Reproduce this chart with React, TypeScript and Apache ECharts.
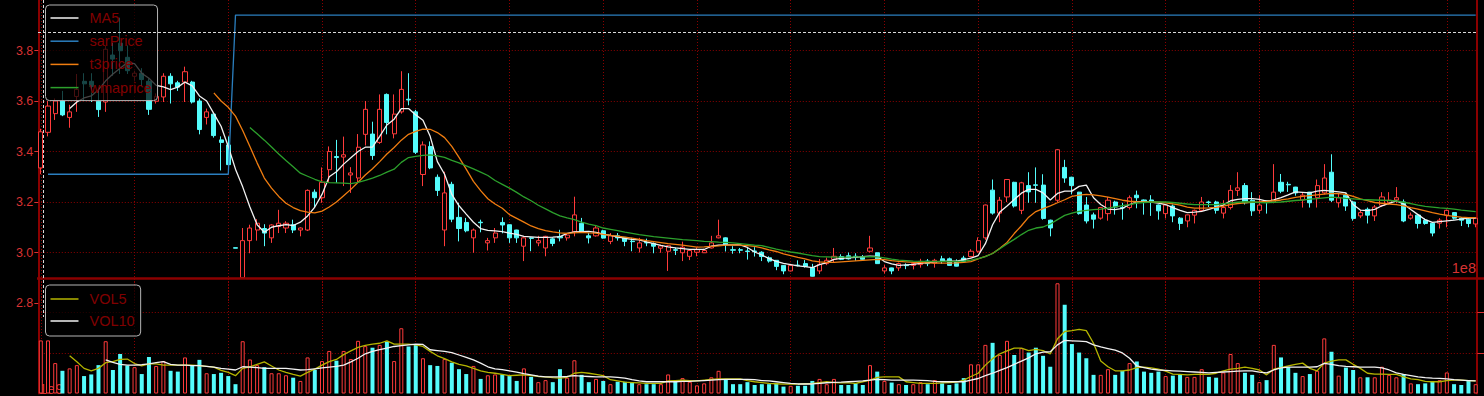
import React, { useEffect, useRef } from 'react';
import * as echarts from 'echarts';

const categories: string[] = Array.from({ length: 200 }, (_, i) => `D${i + 1}`);

const candleOpen: number[] = [
  3.335, 3.476, 3.55, 3.60, 3.535, 3.618, 3.678, 3.678, 3.599, 3.596,
  3.782, 3.829, 3.773, 3.698, 3.71, 3.678, 3.599, 3.616, 3.698, 3.672,
  3.675, 3.675, 3.60, 3.535, 3.548, 3.446, 3.426, 3.019, 2.90, 3.047,
  3.089, 3.095, 3.058, 3.103, 3.097, 3.11, 3.089, 3.089, 3.239, 3.217,
  3.328, 3.38, 3.378, 3.307, 3.295, 3.468, 3.469, 3.436, 3.626, 3.47,
  3.557, 3.607, 3.557, 3.309, 3.42, 3.298, 3.089, 3.27, 3.139, 3.119,
  3.058, 3.12, 3.038, 3.058, 3.119, 3.11, 3.089, 3.025, 3.058, 3.038,
  3.018, 3.054, 3.063, 3.058, 3.082, 3.116, 3.066, 3.066, 3.086, 3.044,
  3.066, 3.06, 3.045, 3.018, 3.04, 3.036, 3.017, 3.005, 3.011, 2.999,
  2.985, 3.001, 2.999, 3.018, 3.058, 3.058, 3.011, 3.011, 3.006, 3.006,
  3.001, 2.979, 2.969, 2.949, 2.927, 2.95, 2.956, 2.94, 2.927, 2.956,
  2.973, 2.984, 2.987, 2.985, 2.984, 3.005, 2.999, 2.927, 2.939, 2.939,
  2.95, 2.949, 2.952, 2.966, 2.958, 2.975, 2.975, 2.965, 2.978, 2.984,
  3.005, 3.058, 3.247, 3.156, 3.22, 3.278, 3.167, 3.265, 3.268, 3.267,
  3.128, 3.207, 3.337, 3.298, 3.239, 3.188, 3.149, 3.136, 3.154, 3.2,
  3.178, 3.178, 3.227, 3.208, 3.208, 3.188, 3.154, 3.184, 3.136, 3.125,
  3.148, 3.167, 3.2, 3.2, 3.156, 3.178, 3.246, 3.265, 3.207, 3.167,
  3.205, 3.2, 3.278, 3.27, 3.259, 3.208, 3.239, 3.217, 3.236, 3.318,
  3.197, 3.227, 3.2, 3.145, 3.171, 3.145, 3.187, 3.197, 3.208, 3.2,
  3.136, 3.148, 3.128, 3.116, 3.116, 3.148, 3.158, 3.136, 3.132, 3.113,
];

const candleClose: number[] = [
  3.478, 3.58, 3.60, 3.545, 3.557, 3.646, 3.668, 3.657, 3.566, 3.805,
  3.766, 3.799, 3.72, 3.71, 3.685, 3.567, 3.618, 3.698, 3.668, 3.655,
  3.716, 3.596, 3.487, 3.557, 3.463, 3.436, 3.348, 3.017, 3.047, 3.097,
  3.116, 3.077, 3.109, 3.116, 3.116, 3.089, 3.097, 3.246, 3.217, 3.278,
  3.40, 3.376, 3.387, 3.315, 3.417, 3.567, 3.384, 3.567, 3.515, 3.548,
  3.646, 3.604, 3.397, 3.426, 3.335, 3.246, 3.236, 3.132, 3.095, 3.086,
  3.089, 3.118, 3.047, 3.077, 3.109, 3.058, 3.058, 3.058, 3.056, 3.047,
  3.064, 3.036, 3.058, 3.069, 3.149, 3.082, 3.058, 3.097, 3.057, 3.066,
  3.058, 3.044, 3.043, 3.038, 3.038, 3.025, 3.026, 3.027, 3.009, 3.021,
  3.008, 3.011, 3.008, 3.038, 3.066, 3.031, 3.009, 3.009, 3.004, 3.003,
  2.984, 2.966, 2.945, 2.927, 2.949, 2.948, 2.945, 2.906, 2.953, 2.969,
  2.985, 2.973, 2.975, 2.983, 2.973, 3.018, 2.956, 2.939, 2.927, 2.956,
  2.948, 2.956, 2.965, 2.956, 2.969, 2.965, 2.949, 2.946, 2.965, 3.005,
  3.047, 3.188, 3.156, 3.207, 3.289, 3.184, 3.276, 3.24, 3.266, 3.135,
  3.097, 3.407, 3.295, 3.265, 3.154, 3.125, 3.132, 3.178, 3.207, 3.18,
  3.176, 3.217, 3.217, 3.2, 3.2, 3.165, 3.188, 3.145, 3.115, 3.149,
  3.167, 3.2, 3.198, 3.167, 3.178, 3.246, 3.256, 3.197, 3.165, 3.188,
  3.203, 3.239, 3.243, 3.268, 3.236, 3.227, 3.197, 3.265, 3.295, 3.207,
  3.217, 3.184, 3.135, 3.158, 3.148, 3.18, 3.22, 3.207, 3.217, 3.125,
  3.148, 3.115, 3.115, 3.077, 3.128, 3.167, 3.136, 3.128, 3.115, 3.136,
];

const candleLow: number[] = [
  3.31, 3.46, 3.525, 3.54, 3.494, 3.557, 3.60, 3.596, 3.537, 3.557,
  3.70, 3.707, 3.707, 3.68, 3.66, 3.545, 3.59, 3.596, 3.59, 3.64,
  3.596, 3.59, 3.468, 3.507, 3.455, 3.325, 3.34, 3.017, 2.90, 2.997,
  3.047, 3.025, 3.038, 3.077, 3.077, 3.077, 3.064, 3.085, 3.178, 3.197,
  3.276, 3.276, 3.263, 3.236, 3.276, 3.424, 3.367, 3.43, 3.468, 3.452,
  3.55, 3.583, 3.39, 3.263, 3.33, 3.224, 3.025, 3.12, 3.044, 3.08,
  2.999, 3.08, 3.008, 3.038, 3.076, 3.038, 3.038, 2.966, 3.005, 3.025,
  2.985, 3.025, 3.044, 3.047, 3.064, 3.08, 3.036, 3.063, 3.055, 3.033,
  3.047, 3.025, 3.005, 3.0, 3.025, 2.997, 2.999, 2.927, 2.99, 2.966,
  2.97, 2.985, 2.998, 3.016, 3.056, 3.004, 2.995, 2.997, 2.972, 2.984,
  2.966, 2.96, 2.93, 2.914, 2.925, 2.945, 2.94, 2.905, 2.915, 2.95,
  2.962, 2.97, 2.972, 2.967, 2.97, 3.0, 2.955, 2.917, 2.914, 2.927,
  2.934, 2.933, 2.94, 2.946, 2.94, 2.955, 2.948, 2.945, 2.96, 2.98,
  3.0, 3.05, 3.15, 3.12, 3.2, 3.178, 3.152, 3.197, 3.197, 3.13,
  3.064, 3.2, 3.276, 3.23, 3.15, 3.115, 3.095, 3.13, 3.126, 3.15,
  3.13, 3.17, 3.175, 3.15, 3.145, 3.13, 3.135, 3.12, 3.089, 3.10,
  3.115, 3.16, 3.18, 3.154, 3.135, 3.17, 3.224, 3.19, 3.145, 3.154,
  3.154, 3.195, 3.235, 3.24, 3.225, 3.178, 3.178, 3.178, 3.23, 3.2,
  3.178, 3.165, 3.126, 3.136, 3.115, 3.125, 3.18, 3.19, 3.195, 3.12,
  3.13, 3.095, 3.11, 3.064, 3.095, 3.10, 3.13, 3.105, 3.10, 3.10,
];

const candleHigh: number[] = [
  3.49, 3.60, 3.61, 3.64, 3.585, 3.707, 3.71, 3.71, 3.64, 3.82,
  3.83, 3.93, 3.82, 3.72, 3.73, 3.69, 3.63, 3.71, 3.71, 3.68,
  3.736, 3.68, 3.61, 3.57, 3.55, 3.46, 3.46, 3.019, 3.097, 3.11,
  3.132, 3.112, 3.112, 3.169, 3.124, 3.13, 3.10, 3.25, 3.25, 3.337,
  3.42, 3.446, 3.459, 3.338, 3.469, 3.60, 3.518, 3.626, 3.63, 3.626,
  3.718, 3.71, 3.565, 3.44, 3.44, 3.309, 3.32, 3.28, 3.197, 3.137,
  3.095, 3.13, 3.058, 3.097, 3.139, 3.11, 3.09, 3.06, 3.06, 3.066,
  3.066, 3.06, 3.09, 3.077, 3.221, 3.137, 3.077, 3.106, 3.09, 3.077,
  3.077, 3.06, 3.058, 3.058, 3.055, 3.04, 3.03, 3.03, 3.02, 3.043,
  3.01, 3.02, 3.015, 3.066, 3.13, 3.06, 3.025, 3.018, 3.021, 3.021,
  3.005, 2.985, 2.97, 2.95, 2.955, 2.969, 2.97, 2.955, 2.974, 2.98,
  3.018, 2.993, 3.0, 2.997, 2.99, 3.066, 3.0, 2.95, 2.94, 2.96,
  2.957, 2.957, 2.975, 2.974, 2.975, 2.987, 2.98, 2.973, 2.987, 3.013,
  3.06, 3.19, 3.289, 3.22, 3.29, 3.28, 3.28, 3.318, 3.337, 3.31,
  3.13, 3.41, 3.367, 3.30, 3.24, 3.22, 3.158, 3.18, 3.22, 3.205,
  3.197, 3.226, 3.245, 3.21, 3.227, 3.19, 3.19, 3.19, 3.14, 3.15,
  3.17, 3.22, 3.205, 3.205, 3.207, 3.267, 3.318, 3.275, 3.239, 3.227,
  3.205, 3.35, 3.311, 3.28, 3.26, 3.239, 3.24, 3.289, 3.35, 3.389,
  3.236, 3.236, 3.205, 3.168, 3.178, 3.188, 3.239, 3.239, 3.259, 3.21,
  3.158, 3.15, 3.135, 3.12, 3.136, 3.17, 3.16, 3.14, 3.14, 3.14,
];

const ma5: (number | null)[] = [
  null, null, null, null, 3.57, 3.596, 3.612, 3.62, 3.645, 3.68,
  3.707, 3.73, 3.752, 3.748, 3.71, 3.69, 3.662, 3.656, 3.645, 3.655,
  3.675, 3.66, 3.62, 3.60, 3.55, 3.50, 3.42, 3.33, 3.26, 3.18,
  3.11, 3.08, 3.10, 3.106, 3.11, 3.107, 3.12, 3.145, 3.18, 3.23,
  3.30, 3.32, 3.35, 3.375, 3.40, 3.417, 3.417, 3.46, 3.505, 3.528,
  3.57, 3.57, 3.545, 3.524, 3.46, 3.36, 3.31, 3.23, 3.185, 3.152,
  3.12, 3.095, 3.088, 3.086, 3.083, 3.077, 3.072, 3.064, 3.062, 3.06,
  3.06, 3.061, 3.063, 3.076, 3.082, 3.083, 3.084, 3.08, 3.073, 3.068,
  3.062, 3.056, 3.052, 3.05, 3.042, 3.035, 3.028, 3.022, 3.018, 3.015,
  3.012, 3.012, 3.012, 3.025, 3.029, 3.03, 3.03, 3.03, 3.02, 3.002,
  2.99, 2.976, 2.965, 2.957, 2.952, 2.947, 2.944, 2.94, 2.952, 2.96,
  2.973, 2.977, 2.979, 2.981, 2.984, 2.986, 2.985, 2.964, 2.955, 2.949,
  2.951, 2.953, 2.957, 2.96, 2.963, 2.965, 2.966, 2.966, 2.972, 2.978,
  2.988, 3.035, 3.11, 3.16, 3.184, 3.21, 3.235, 3.25, 3.25, 3.236,
  3.208, 3.234, 3.243, 3.243, 3.262, 3.267, 3.217, 3.19, 3.172, 3.17,
  3.175, 3.19, 3.2, 3.201, 3.2, 3.196, 3.19, 3.178, 3.167, 3.158,
  3.16, 3.163, 3.171, 3.18, 3.188, 3.205, 3.21, 3.213, 3.213, 3.21,
  3.203, 3.208, 3.217, 3.228, 3.24, 3.238, 3.236, 3.243, 3.246, 3.243,
  3.24, 3.236, 3.19, 3.168, 3.166, 3.171, 3.185, 3.195, 3.204, 3.192,
  3.17, 3.15, 3.13, 3.119, 3.122, 3.125, 3.128, 3.132, 3.136, 3.136,
];

const sarPrice: (number | null)[] = [
  null, 3.31, 3.31, 3.31, 3.31, 3.31, 3.31, 3.31, 3.31, 3.31,
  3.31, 3.31, 3.31, 3.31, 3.31, 3.31, 3.31, 3.31, 3.31, 3.31,
  3.31, 3.31, 3.31, 3.31, 3.31, 3.31, 3.31, 3.94, 3.94, 3.94,
  3.94, 3.94, 3.94, 3.94, 3.94, 3.94, 3.94, 3.94, 3.94, 3.94,
  3.94, 3.94, 3.94, 3.94, 3.94, 3.94, 3.94, 3.94, 3.94, 3.94,
  3.94, 3.94, 3.94, 3.94, 3.94, 3.94, 3.94, 3.94, 3.94, 3.94,
  3.94, 3.94, 3.94, 3.94, 3.94, 3.94, 3.94, 3.94, 3.94, 3.94,
  3.94, 3.94, 3.94, 3.94, 3.94, 3.94, 3.94, 3.94, 3.94, 3.94,
  3.94, 3.94, 3.94, 3.94, 3.94, 3.94, 3.94, 3.94, 3.94, 3.94,
  3.94, 3.94, 3.94, 3.94, 3.94, 3.94, 3.94, 3.94, 3.94, 3.94,
  3.94, 3.94, 3.94, 3.94, 3.94, 3.94, 3.94, 3.94, 3.94, 3.94,
  3.94, 3.94, 3.94, 3.94, 3.94, 3.94, 3.94, 3.94, 3.94, 3.94,
  3.94, 3.94, 3.94, 3.94, 3.94, 3.94, 3.94, 3.94, 3.94, 3.94,
  3.94, 3.94, 3.94, 3.94, 3.94, 3.94, 3.94, 3.94, 3.94, 3.94,
  3.94, 3.94, 3.94, 3.94, 3.94, 3.94, 3.94, 3.94, 3.94, 3.94,
  3.94, 3.94, 3.94, 3.94, 3.94, 3.94, 3.94, 3.94, 3.94, 3.94,
  3.94, 3.94, 3.94, 3.94, 3.94, 3.94, 3.94, 3.94, 3.94, 3.94,
  3.94, 3.94, 3.94, 3.94, 3.94, 3.94, 3.94, 3.94, 3.94, 3.94,
  3.94, 3.94, 3.94, 3.94, 3.94, 3.94, 3.94, 3.94, 3.94, 3.94,
  3.94, 3.94, 3.94, 3.94, 3.94, 3.94, 3.94, 3.94, 3.94, 3.94,
];

const t3price: (number | null)[] = [
  null, null, null, null, null, null, null, null, null, null,
  null, null, null, null, null, null, null, null, null, null,
  null, null, null, null, 3.632, 3.60, 3.575, 3.54, 3.483, 3.42,
  3.355, 3.295, 3.255, 3.222, 3.195, 3.178, 3.166, 3.16, 3.157, 3.164,
  3.18, 3.20, 3.225, 3.25, 3.278, 3.307, 3.332, 3.36, 3.39, 3.416,
  3.445, 3.468, 3.48, 3.489, 3.488, 3.475, 3.455, 3.42, 3.377, 3.33,
  3.282, 3.245, 3.213, 3.192, 3.175, 3.15, 3.135, 3.12, 3.105, 3.095,
  3.087, 3.082, 3.078, 3.076, 3.078, 3.08, 3.078, 3.077, 3.072, 3.068,
  3.065, 3.061, 3.057, 3.052, 3.047, 3.043, 3.039, 3.035, 3.032, 3.029,
  3.025, 3.021, 3.022, 3.024, 3.026, 3.029, 3.03, 3.029, 3.027, 3.024,
  3.018, 3.01, 3.004, 2.995, 2.988, 2.981, 2.975, 2.967, 2.963, 2.961,
  2.961, 2.963, 2.965, 2.967, 2.969, 2.971, 2.973, 2.972, 2.968, 2.965,
  2.963, 2.961, 2.96, 2.959, 2.958, 2.958, 2.958, 2.959, 2.961, 2.964,
  2.975, 2.985, 2.996, 3.017, 3.04, 3.075, 3.106, 3.14, 3.162, 3.174,
  3.185, 3.197, 3.209, 3.222, 3.227, 3.23, 3.228, 3.224, 3.219, 3.213,
  3.207, 3.203, 3.201, 3.2, 3.2, 3.199, 3.197, 3.193, 3.188, 3.18,
  3.176, 3.176, 3.177, 3.179, 3.184, 3.19, 3.194, 3.197, 3.199, 3.2,
  3.202, 3.205, 3.208, 3.212, 3.218, 3.222, 3.225, 3.228, 3.231, 3.234,
  3.233, 3.23, 3.222, 3.212, 3.205, 3.198, 3.195, 3.192, 3.19, 3.185,
  3.178, 3.172, 3.165, 3.158, 3.152, 3.147, 3.143, 3.14, 3.138, 3.138,
];

const wmaprice: (number | null)[] = [
  null, null, null, null, null, null, null, null, null, null,
  null, null, null, null, null, null, null, null, null, null,
  null, null, null, null, null, null, null, null, null, 3.495,
  3.47, 3.445, 3.418, 3.39, 3.364, 3.34, 3.314, 3.302, 3.29, 3.28,
  3.277, 3.276, 3.275, 3.273, 3.278, 3.286, 3.295, 3.305, 3.318, 3.33,
  3.357, 3.376, 3.381, 3.385, 3.387, 3.383, 3.377, 3.365, 3.355, 3.343,
  3.331, 3.318, 3.305, 3.285, 3.27, 3.255, 3.238, 3.22, 3.205, 3.187,
  3.173, 3.158, 3.145, 3.137, 3.13, 3.12, 3.112, 3.106, 3.097, 3.092,
  3.087, 3.081, 3.076, 3.071, 3.067, 3.063, 3.06, 3.057, 3.054, 3.051,
  3.049, 3.047, 3.044, 3.043, 3.041, 3.04, 3.038, 3.035, 3.032, 3.029,
  3.027, 3.02, 3.013, 3.007, 3.002, 2.998, 2.993, 2.988, 2.984, 2.983,
  2.982, 2.982, 2.982, 2.983, 2.983, 2.984, 2.983, 2.979, 2.974, 2.97,
  2.968, 2.966, 2.965, 2.965, 2.965, 2.965, 2.965, 2.965, 2.966, 2.97,
  2.976, 2.984, 2.996, 3.015, 3.034, 3.052, 3.071, 3.088, 3.097, 3.101,
  3.113, 3.13, 3.147, 3.156, 3.163, 3.167, 3.17, 3.172, 3.176, 3.181,
  3.186, 3.19, 3.196, 3.198, 3.2, 3.2, 3.2, 3.198, 3.195, 3.192,
  3.19, 3.19, 3.19, 3.19, 3.193, 3.196, 3.199, 3.201, 3.2, 3.198,
  3.197, 3.199, 3.2, 3.203, 3.206, 3.208, 3.211, 3.213, 3.216, 3.219,
  3.217, 3.214, 3.212, 3.21, 3.209, 3.208, 3.207, 3.206, 3.204, 3.199,
  3.194, 3.188, 3.183, 3.18, 3.177, 3.175, 3.172, 3.168, 3.165, 3.162,
];

const volumes: number[] = [
  1.31, 1.31, 0.75, 0.56, 0.62, 0.70, 0.43, 0.47, 0.70, 1.29,
  0.58, 0.975, 0.69, 0.65, 0.48, 0.90, 0.68, 0.80, 0.56, 0.54,
  0.89, 0.70, 0.83, 0.50, 0.48, 0.51, 0.43, 0.23, 1.29, 0.84,
  0.70, 0.65, 0.50, 0.50, 0.45, 0.39, 0.31, 0.89, 0.58, 0.80,
  1.05, 0.81, 1.05, 0.85, 1.30, 1.17, 1.13, 1.20, 1.28, 0.80,
  1.61, 1.16, 1.20, 0.87, 0.70, 0.68, 0.85, 0.76, 0.60, 0.48,
  0.68, 0.36, 0.45, 0.47, 0.47, 0.43, 0.31, 0.62, 0.41, 0.28,
  0.33, 0.28, 0.60, 0.39, 0.82, 0.46, 0.28, 0.36, 0.31, 0.23,
  0.29, 0.29, 0.27, 0.23, 0.23, 0.23, 0.23, 0.47, 0.29, 0.38,
  0.29, 0.20, 0.25, 0.40, 0.56, 0.36, 0.23, 0.23, 0.28, 0.21,
  0.23, 0.23, 0.25, 0.17, 0.19, 0.19, 0.19, 0.31, 0.36, 0.23,
  0.36, 0.21, 0.21, 0.25, 0.21, 0.70, 0.54, 0.31, 0.27, 0.23,
  0.21, 0.23, 0.28, 0.23, 0.33, 0.25, 0.21, 0.25, 0.38, 0.72,
  0.72, 1.20, 1.25, 0.95, 1.30, 0.95, 1.12, 1.01, 1.13, 0.93,
  0.66, 2.72, 2.19, 1.22, 1.01, 0.87, 0.46, 0.46, 0.60, 0.46,
  0.56, 0.75, 0.79, 0.54, 0.51, 0.54, 0.43, 0.44, 0.47, 0.41,
  0.41, 0.60, 0.41, 0.39, 0.52, 0.975, 0.75, 0.51, 0.46, 0.28,
  0.33, 1.20, 0.89, 0.65, 0.51, 0.43, 0.48, 0.56, 1.36, 1.03,
  0.44, 0.64, 0.58, 0.40, 0.40, 0.40, 0.66, 0.46, 0.40, 0.48,
  0.25, 0.23, 0.25, 0.29, 0.33, 0.52, 0.23, 0.21, 0.31, 0.23,
];

const vol5: (number | null)[] = [
  null, null, null, null, 0.93, 0.785, 0.62, 0.56, 0.62, 0.76,
  0.785, 0.84, 0.85, 0.74, 0.68, 0.73, 0.73, 0.70, 0.70, 0.70,
  0.70, 0.70, 0.69, 0.67, 0.65, 0.57, 0.52, 0.44, 0.62, 0.66,
  0.72, 0.78, 0.68, 0.58, 0.52, 0.47, 0.43, 0.52, 0.60, 0.70,
  0.785, 0.84, 0.96, 1.05, 1.14, 1.19, 1.22, 1.24, 1.30, 1.22,
  1.22, 1.22, 1.20, 1.16, 1.04, 0.93, 0.86, 0.78, 0.72, 0.68,
  0.62, 0.56, 0.52, 0.50, 0.47, 0.44, 0.45, 0.46, 0.44, 0.42,
  0.41, 0.39, 0.38, 0.40, 0.50, 0.52, 0.50, 0.47, 0.44, 0.34,
  0.31, 0.28, 0.27, 0.26, 0.25, 0.25, 0.25, 0.31, 0.32, 0.33,
  0.32, 0.31, 0.33, 0.35, 0.36, 0.36, 0.36, 0.36, 0.32, 0.29,
  0.27, 0.25, 0.24, 0.23, 0.23, 0.23, 0.24, 0.25, 0.27, 0.29,
  0.27, 0.26, 0.26, 0.25, 0.29, 0.33, 0.40, 0.41, 0.41, 0.41,
  0.29, 0.27, 0.25, 0.25, 0.25, 0.26, 0.27, 0.28, 0.33, 0.42,
  0.50, 0.70, 0.86, 0.98, 1.05, 1.12, 1.12, 1.06, 1.09, 1.06,
  0.975, 1.35, 1.53, 1.55, 1.58, 1.55, 1.24, 0.80, 0.66, 0.56,
  0.56, 0.58, 0.64, 0.65, 0.63, 0.60, 0.55, 0.48, 0.47, 0.46,
  0.47, 0.48, 0.47, 0.50, 0.56, 0.60, 0.62, 0.65, 0.62, 0.58,
  0.46, 0.60, 0.64, 0.68, 0.72, 0.75, 0.62, 0.56, 0.75, 0.80,
  0.83, 0.83, 0.72, 0.62, 0.50, 0.48, 0.48, 0.47, 0.47, 0.41,
  0.36, 0.34, 0.30, 0.29, 0.29, 0.32, 0.33, 0.33, 0.32, 0.31,
];

const vol10: (number | null)[] = [
  null, null, null, null, null, null, null, null, null, 0.83,
  0.77, 0.72, 0.70, 0.70, 0.71, 0.73, 0.76, 0.785, 0.72, 0.70,
  0.70, 0.69, 0.69, 0.67, 0.65, 0.62, 0.60, 0.58, 0.66, 0.65,
  0.64, 0.62, 0.62, 0.62, 0.62, 0.60, 0.58, 0.59, 0.61, 0.63,
  0.65, 0.67, 0.70, 0.78, 0.87, 0.98, 1.04, 1.08, 1.12, 1.16,
  1.18, 1.20, 1.22, 1.21, 1.08, 1.06, 1.04, 1.01, 0.95, 0.89,
  0.83, 0.75, 0.66, 0.61, 0.59, 0.56, 0.53, 0.49, 0.46, 0.43,
  0.41, 0.41, 0.41, 0.42, 0.44, 0.43, 0.42, 0.41, 0.41, 0.41,
  0.40, 0.38, 0.34, 0.31, 0.29, 0.29, 0.29, 0.29, 0.29, 0.30,
  0.30, 0.31, 0.32, 0.33, 0.34, 0.35, 0.35, 0.35, 0.35, 0.34,
  0.32, 0.31, 0.29, 0.27, 0.25, 0.235, 0.235, 0.235, 0.25, 0.265,
  0.275, 0.28, 0.29, 0.30, 0.31, 0.33, 0.35, 0.34, 0.33, 0.33,
  0.33, 0.33, 0.325, 0.32, 0.30, 0.29, 0.29, 0.29, 0.29, 0.33,
  0.37, 0.44, 0.50, 0.57, 0.64, 0.72, 0.80, 0.88, 0.98, 1.02,
  1.03, 1.20, 1.31, 1.30, 1.29, 1.28, 1.20, 1.15, 1.11, 1.07,
  1.00, 0.87, 0.68, 0.64, 0.60, 0.58, 0.57, 0.56, 0.55, 0.54,
  0.53, 0.52, 0.51, 0.52, 0.53, 0.54, 0.55, 0.56, 0.56, 0.53,
  0.51, 0.58, 0.63, 0.65, 0.65, 0.65, 0.65, 0.66, 0.745, 0.72,
  0.69, 0.67, 0.66, 0.65, 0.65, 0.65, 0.63, 0.58, 0.51, 0.47,
  0.44, 0.41, 0.39, 0.38, 0.375, 0.36, 0.34, 0.33, 0.32, 0.31,
];

const priceTicks = { min: 2.8, max: 4.0, interval: 0.2 };
const volumeTicks = { min: 0, max: 2.85, interval: 1 };

const UP = '#ff3b3b';
const DOWN = '#54fcfc';
const AXIS = '#8b0000';
const GRIDLINE = '#8b0000';
const LABEL = '#d93232';
const LEGEND_TEXT = '#800000';
const FONT = "'Liberation Sans', Arial, sans-serif";

export default function App() {
  const ref = useRef<HTMLDivElement>(null);

  useEffect(() => {
    document.body.style.margin = '0';
    document.body.style.background = '#000';
    if (!ref.current) return;
    const chart = echarts.init(ref.current, undefined, { renderer: 'svg' });

    const candleData = candleOpen.map((o, i) => [o, candleClose[i], candleLow[i], candleHigh[i]]);
    const volumeData = volumes.map((v, i) => {
      const up = candleClose[i] >= candleOpen[i];
      return {
        value: v,
        itemStyle: up
          ? { color: '#000', borderColor: UP, borderWidth: 1 }
          : { color: DOWN, borderColor: DOWN, borderWidth: 0 },
      };
    });

    const dots = { color: GRIDLINE, type: [1, 2], width: 1 };
    const splitX = { show: true, interval: 12, lineStyle: dots };
    const splitY = { show: true, showMinLine: false, showMaxLine: false, lineStyle: dots };
    const axisLine = { show: true, lineStyle: { color: AXIS, width: 2 } };

    const lineSeries = (name: string, data: (number | null)[], color: string, x = 0, y = 0, width = 1.3) => ({
      type: 'line',
      name,
      data,
      xAxisIndex: x,
      yAxisIndex: y,
      color,
      showSymbol: false,
      symbol: 'none',
      connectNulls: false,
      lineStyle: { color, width },
      itemStyle: { color },
      silent: true,
      z: 3,
    });

    const legendBase = {
      orient: 'vertical',
      icon: 'rect',
      itemWidth: 28,
      itemHeight: 1.5,
      selectedMode: false,
      backgroundColor: 'rgba(0,0,0,0.72)',
      borderColor: '#b4b4b4',
      borderWidth: 1,
      borderRadius: 4,
      textStyle: { color: LEGEND_TEXT, fontSize: 14.5, fontFamily: FONT, lineHeight: 16, padding: [0, 0, 0, 6] },
      z: 10,
    };

    chart.setOption({
      backgroundColor: '#000',
      animation: false,
      textStyle: { fontFamily: FONT },
      grid: [
        { left: 40.8, right: 8.3, top: -3, bottom: 93 },
        { left: 40.8, right: 8.3, top: 278, bottom: 2.5 },
      ],
      legend: [
        { ...legendBase, data: ['MA5', 'sarPrice', 't3price', 'wmaprice'], left: 45.5, top: 5, itemGap: 7.2, padding: [5, 6, 5, 5] },
        { ...legendBase, data: ['VOL5', 'VOL10'], left: 45.5, top: 285, itemGap: 6, padding: [6, 6, 7, 5] },
      ],
      xAxis: [
        {
          type: 'category', gridIndex: 0, data: categories, boundaryGap: false,
          axisLine: { show: false }, axisTick: { show: false }, axisLabel: { show: false }, splitLine: splitX,
        },
        {
          type: 'category', gridIndex: 1, data: categories, boundaryGap: false, position: 'top',
          axisLine: { show: false }, axisTick: { show: false }, axisLabel: { show: false }, splitLine: splitX,
        },
      ],
      yAxis: [
        {
          type: 'value', gridIndex: 0, position: 'left', offset: 2.5, ...priceTicks,
          axisLine, axisTick: { show: true, length: 4, lineStyle: { color: LABEL } },
          axisLabel: { color: LABEL, fontSize: 12.5, margin: 5, showMaxLabel: false, fontFamily: FONT, formatter: (v: number) => v.toFixed(1) },
          splitLine: splitY,
        },
        {
          type: 'value', gridIndex: 0, position: 'right', offset: 1.5, ...priceTicks,
          axisLine, axisTick: { show: false }, axisLabel: { show: false }, splitLine: { show: false },
        },
        {
          type: 'value', gridIndex: 1, position: 'left', offset: 2.5, ...volumeTicks,
          axisLine, axisTick: { show: false }, axisLabel: { show: false }, splitLine: splitY,
        },
        {
          type: 'value', gridIndex: 1, position: 'right', offset: 1.5, ...volumeTicks,
          axisLine, axisTick: { show: true, length: 7, customValues: [1, 2], lineStyle: { color: LABEL } },
          axisLabel: { show: false }, splitLine: { show: false },
        },
      ],
      series: [
        {
          type: 'candlestick', name: 'K', xAxisIndex: 0, yAxisIndex: 0, data: candleData, barWidth: 4.6, silent: true,
          itemStyle: { color: '#000', color0: DOWN, borderColor: UP, borderColor0: DOWN, borderWidth: 1 },
          z: 2,
        },
        lineSeries('MA5', ma5, '#f2f2f2'),
        lineSeries('sarPrice', sarPrice, '#2b7fbf'),
        lineSeries('t3price', t3price, '#f07d10'),
        lineSeries('wmaprice', wmaprice, '#2ca02c'),
        { type: 'bar', name: 'VOL', xAxisIndex: 1, yAxisIndex: 2, data: volumeData, barWidth: 4, silent: true, z: 2 },
        lineSeries('VOL5', vol5, '#b5b500', 1, 2),
        lineSeries('VOL10', vol10, '#f2f2f2', 1, 2),
      ],
      graphic: [
        { type: 'line', z: 30, shape: { x1: 37, y1: 278.5, x2: 1484, y2: 278.5 }, style: { stroke: AXIS, lineWidth: 2.5 }, silent: true },
        { type: 'line', z: 40, shape: { x1: 38, y1: 32.5, x2: 1477, y2: 32.5 }, style: { stroke: '#d8d8d8', lineWidth: 1, lineDash: [3, 2] }, silent: true },
        { type: 'line', z: 40, shape: { x1: 43.5, y1: 0, x2: 43.5, y2: 317 }, style: { stroke: '#d8d8d8', lineWidth: 1, lineDash: [3, 2] }, silent: true },
        { type: 'text', z: 30, x: 1476, y: 268, style: { text: '1e8', fill: LABEL, font: `14.5px ${FONT}`, textAlign: 'right', textVerticalAlign: 'middle' }, silent: true },
        { type: 'text', z: 0, x: 39, y: 389, style: { text: '1e9', fill: LABEL, font: `14.5px ${FONT}`, textAlign: 'left', textVerticalAlign: 'middle' }, silent: true },
      ],
    });

    return () => chart.dispose();
  }, []);

  return <div ref={ref} style={{ width: 1484, height: 396, background: '#000' }} />;
}
